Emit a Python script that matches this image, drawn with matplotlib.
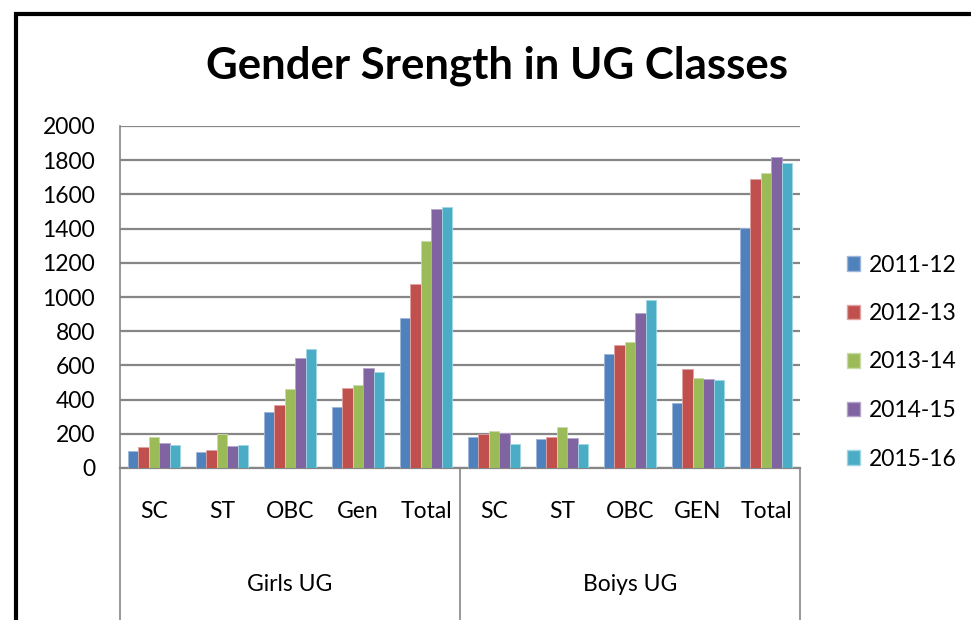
import numpy as np
import matplotlib
matplotlib.use("Agg")
import matplotlib.pyplot as plt
from matplotlib.patches import Rectangle, Patch
from matplotlib.transforms import blended_transform_factory

plt.rcParams['font.family'] = ['Lato', 'DejaVu Sans']

# data
categories = ["SC", "ST", "OBC", "Gen", "Total", "SC", "ST", "OBC", "GEN", "Total"]
groups = ["Girls UG", "Boiys UG"]
years = ["2011-12", "2012-13", "2013-14", "2014-15", "2015-16"]

y2011 = [100, 92, 326, 358, 879, 179, 170, 667, 380, 1402]
y2012 = [123, 107, 368, 468, 1076, 200, 179, 721, 579, 1688]
y2013 = [181, 197, 460, 483, 1329, 218, 238, 739, 525, 1725]
y2014 = [148, 127, 643, 587, 1513, 205, 175, 908, 522, 1819]
y2015 = [133, 133, 696, 561, 1528, 140, 142, 980, 515, 1782]
series = [y2011, y2012, y2013, y2014, y2015]

colors = ["#4F81BD", "#C0504D", "#9BBB59", "#8064A2", "#4BACC6"]
edges = ["#9DB6DA", "#E0A3A1", "#C9DBA6", "#B5A4CA", "#A0D5E3"]

fig = plt.figure(figsize=(9.71, 6.20), dpi=100)
W, H = 971, 620
ax = fig.add_axes([120 / W, (H - 468) / H, 680 / W, 342 / H])

x = np.arange(len(categories))
w = 1 / 6.5  # excel gap width 150%
for j, vals in enumerate(series):
    ax.bar(x + (j - 2) * w, vals, width=w, color=colors[j], edgecolor=edges[j],
           linewidth=0.6, label=years[j], zorder=3)

fs = 16.5
ax.set_xlim(-0.5, len(categories) - 0.5)
ax.set_ylim(0, 2000)
ax.set_yticks(np.arange(0, 2001, 200))
ax.tick_params(axis='y', length=0, pad=18, labelsize=fs)
ax.set_xticks([])
ax.yaxis.grid(True, color="#868686", linewidth=1.6, zorder=0)
for s in ["top", "right"]:
    ax.spines[s].set_visible(False)
ax.spines["left"].set_color("#868686")
ax.spines["bottom"].set_color("#868686")
ax.spines["left"].set_linewidth(1.2)
ax.spines["bottom"].set_linewidth(1.6)

trans = blended_transform_factory(ax.transData, ax.transAxes)
for i, c in enumerate(categories):
    ax.text(i, -0.126, c, transform=trans, ha='center', va='center', fontsize=fs)
for g, name in enumerate(groups):
    ax.text(g * 5 + 2, -0.34, name, transform=trans, ha='center', va='center', fontsize=fs)
for xs in [-0.5, 4.5, 9.5]:
    ax.plot([xs, xs], [0, -0.46], transform=trans, color="#868686", linewidth=1.2,
            clip_on=False)

fig.suptitle("Gender Srength in UG Classes", x=497 / W, y=1 - 66 / H, va='center',
             fontsize=31.5, fontweight='bold')

handles = [Patch(facecolor=colors[j], edgecolor=edges[j]) for j in range(5)]
fig.legend(handles, years, loc='center left', bbox_to_anchor=(826 / W, 1 - 362 / H),
           frameon=False, fontsize=fs, handlelength=0.6, handleheight=0.6,
           handletextpad=0.35, labelspacing=1.2)

# black frame of the chart object (clipped on right and bottom)
fig.patches.append(Rectangle((16 / W, -0.1), 1.2, 1.1 - 14 / H, transform=fig.transFigure,
                             fill=False, edgecolor="black", linewidth=3))

fig.savefig("out.png", dpi=100)
